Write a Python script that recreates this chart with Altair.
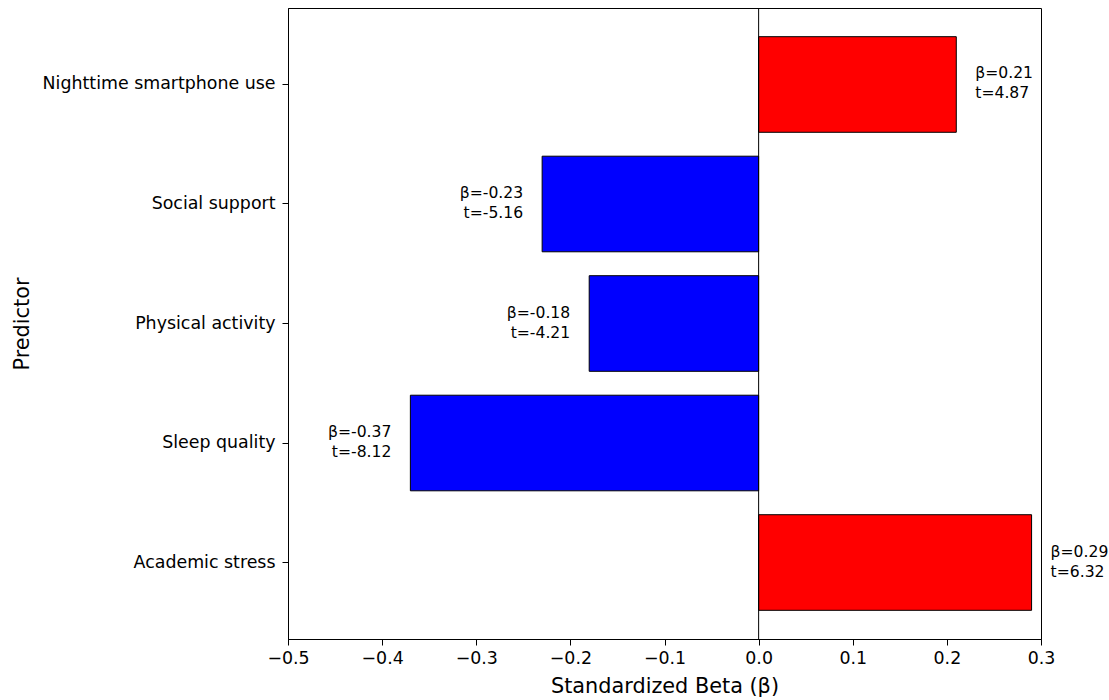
import altair as alt
import pandas as pd

predictors = ["Nighttime smartphone use", "Social support", "Physical activity", "Sleep quality", "Academic stress"]
betas = [0.21, -0.23, -0.18, -0.37, 0.29]
tvals = [4.87, -5.16, -4.21, -8.12, 6.32]
x_ticks = [-0.5, -0.4, -0.3, -0.2, -0.1, 0.0, 0.1, 0.2, 0.3]

df = pd.DataFrame({
    "Predictor": predictors,
    "beta": betas,
    "t": tvals,
})
df["label"] = [f"β={b:.2f}\nt={t:.2f}" for b, t in zip(betas, tvals)]
df["color"] = ["#ff0000" if b > 0 else "#0000ff" for b in betas]

FONT = "DejaVu Sans"
TICK_FS = 17.4
TITLE_FS = 20.8
ANN_FS = 15.6

xscale = alt.Scale(domain=[-0.5, 0.3], nice=False, zero=False)
yscale = alt.Scale(paddingInner=0.2, paddingOuter=0.24)

base = alt.Chart(df)

bars = base.mark_bar(stroke="black", strokeWidth=1).encode(
    x=alt.X("beta:Q", scale=xscale,
            axis=alt.Axis(title="Standardized Beta (β)", values=x_ticks, format=".1f",
                          labelExpr="replace(datum.label, '-', '\u2212')",
                          grid=False, tickSize=6, tickColor="black", domainColor="black",
                          labelFontSize=TICK_FS, titleFontSize=TITLE_FS, labelPadding=4,
                          titleY=47, titleBaseline="middle", labelColor="black",
                          titleColor="black", titleFontWeight="normal", labelFlush=False)),
    x2=alt.datum(0),
    y=alt.Y("Predictor:N", sort=predictors, scale=yscale,
            axis=alt.Axis(title="Predictor", grid=False, tickSize=6, tickColor="black",
                          domainColor="black", labelFontSize=TICK_FS, titleFontSize=TITLE_FS,
                          labelPadding=7, titleX=-266, titleBaseline="middle",
                          labelColor="black", titleColor="black", titleFontWeight="normal",
                          labelLimit=400)),
    color=alt.Color("color:N", scale=None),
)

zero_rule = alt.Chart(pd.DataFrame({"z": [0.0]})).mark_rule(color="black", strokeWidth=1).encode(
    x=alt.X("z:Q", scale=xscale)
)

pos_text = base.transform_filter("datum.beta > 0").mark_text(
    align="left", baseline="middle", dx=19, dy=-11, fontSize=ANN_FS, lineBreak="\n",
    lineHeight=20, font=FONT, color="black"
).encode(
    x=alt.X("beta:Q", scale=xscale),
    y=alt.Y("Predictor:N", sort=predictors, scale=yscale),
    text="label:N",
)

neg_text = base.transform_filter("datum.beta < 0").mark_text(
    align="right", baseline="middle", dx=-19, dy=-11, fontSize=ANN_FS, lineBreak="\n",
    lineHeight=20, font=FONT, color="black"
).encode(
    x=alt.X("beta:Q", scale=xscale),
    y=alt.Y("Predictor:N", sort=predictors, scale=yscale),
    text="label:N",
)

chart = alt.layer(bars, zero_rule, pos_text, neg_text).properties(
    width=753, height=631,
    autosize=alt.AutoSizeParams(type="none"),
    padding={"left": 288, "top": 8, "right": 68, "bottom": 61},
).configure(
    font=FONT, background="white"
).configure_view(
    stroke="black", strokeWidth=1
)

chart.save("out.html", embed_options={"renderer": "svg", "actions": False})
